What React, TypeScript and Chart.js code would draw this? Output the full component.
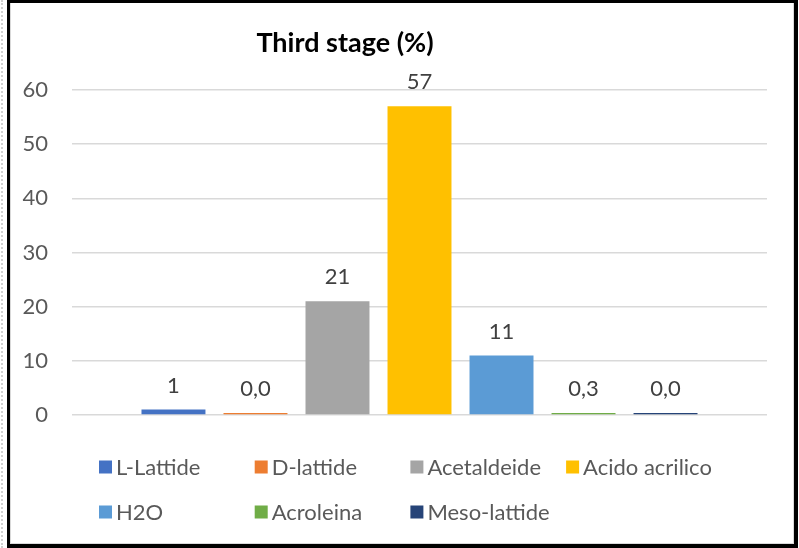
import { useEffect, useRef } from "react";
import { Chart, registerables } from "chart.js";

Chart.register(...registerables);

// Series shown as a single clustered group of bars
const seriesNames = [
  "L-Lattide",
  "D-lattide",
  "Acetaldeide",
  "Acido acrilico",
  "H2O",
  "Acroleina",
  "Meso-lattide",
];
const seriesValues = [1, 0, 21, 57, 11, 0.3, 0];
const seriesColors = [
  "#4472C4",
  "#ED7D31",
  "#A5A5A5",
  "#FFC000",
  "#5B9BD5",
  "#70AD47",
  "#264478",
];
const yTicks = [0, 10, 20, 30, 40, 50, 60];
const chartTitle = "Third stage (%)";

const FONT = "Lato, 'Noto Sans', sans-serif";
const W = 799;
const H = 548;

function formatValue(v: number): string {
  return v >= 1 ? String(Math.round(v)) : v.toFixed(1).replace(".", ",");
}

const titlePlugin = {
  id: "stageTitle",
  afterDraw(chart: any) {
    const ctx = chart.ctx;
    ctx.save();
    ctx.font = `bold 27px ${FONT}`;
    ctx.fillStyle = "#000000";
    ctx.textAlign = "center";
    ctx.textBaseline = "middle";
    ctx.fillText(chartTitle, 345, 43);
    ctx.restore();
  },
};

const valueLabelPlugin = {
  id: "valueLabels",
  afterDatasetsDraw(chart: any) {
    const ctx = chart.ctx;
    ctx.save();
    ctx.font = `22px ${FONT}`;
    ctx.fillStyle = "#404040";
    ctx.textAlign = "center";
    ctx.textBaseline = "middle";
    chart.data.datasets.forEach((ds: any, i: number) => {
      const el = chart.getDatasetMeta(i).data[0];
      if (!el) return;
      const top = Math.min(el.y, el.base);
      ctx.fillText(formatValue(ds.data[0]), el.x, top - 24);
    });
    ctx.restore();
  },
};

const gridLegendPlugin = {
  id: "gridLegend",
  afterDraw(chart: any) {
    const ctx = chart.ctx;
    const startX = 99;
    const colW = 155.7;
    const rowY = [467, 512];
    ctx.save();
    ctx.font = `22px ${FONT}`;
    ctx.textAlign = "left";
    ctx.textBaseline = "middle";
    chart.data.datasets.forEach((ds: any, i: number) => {
      const col = i % 4;
      const row = Math.floor(i / 4);
      const x = startX + col * colW;
      const y = rowY[row];
      ctx.fillStyle = ds.backgroundColor;
      ctx.fillRect(x, y - 6.5, 13, 13);
      ctx.fillStyle = "#595959";
      ctx.fillText(ds.label, x + 17, y + 1);
    });
    ctx.restore();
  },
};

export default function App() {
  const canvasRef = useRef<HTMLCanvasElement | null>(null);

  useEffect(() => {
    if (!canvasRef.current) return;
    const chart = new Chart(canvasRef.current, {
      type: "bar",
      data: {
        labels: [""],
        datasets: seriesNames.map((name, i) => ({
          label: name,
          data: [seriesValues[i]],
          backgroundColor: seriesColors[i],
          borderWidth: 0,
          minBarLength: 2,
          categoryPercentage: 0.826,
          barPercentage: 0.78,
        })),
      },
      options: {
        responsive: false,
        animation: false,
        devicePixelRatio: 1,
        layout: { padding: { top: 90, bottom: 133, left: 0, right: 32 } },
        plugins: {
          legend: { display: false },
          title: { display: false },
          tooltip: { enabled: false },
        },
        scales: {
          x: { display: false },
          y: {
            min: yTicks[0],
            max: yTicks[yTicks.length - 1],
            ticks: {
              stepSize: yTicks[1] - yTicks[0],
              padding: 24,
              color: "#595959",
              font: { family: FONT, size: 22 },
            },
            grid: { color: "#d9d9d9", lineWidth: 1.5, drawTicks: false },
            border: { display: false },
            afterFit: (scale: any) => {
              scale.width = 72;
            },
          },
        },
      },
      plugins: [titlePlugin, valueLabelPlugin, gridLegendPlugin],
    });
    return () => chart.destroy();
  }, []);

  return (
    <div
      style={{
        position: "fixed",
        left: 0,
        top: 0,
        width: W,
        height: H,
        background: "#ffffff",
        overflow: "hidden",
      }}
    >
      <canvas
        ref={canvasRef}
        width={W}
        height={H}
        style={{ position: "absolute", left: 0, top: 0, width: W, height: H }}
      />
      <div
        style={{
          position: "absolute",
          left: 1,
          top: 0,
          width: 0,
          height: H,
          borderLeft: "2px dotted #d0d0d0",
          pointerEvents: "none",
        }}
      />
      <div
        style={{
          position: "absolute",
          left: 7,
          top: 0,
          width: 791,
          height: H,
          boxSizing: "border-box",
          borderStyle: "solid",
          borderColor: "#000000",
          borderWidth: "3px 4px 4px 3px",
          pointerEvents: "none",
        }}
      >
        <div
          style={{
            position: "absolute",
            inset: 0,
            boxSizing: "border-box",
            borderStyle: "solid",
            borderColor: "#d9d9d9",
            borderWidth: "0 1px 1px 1px",
          }}
        />
      </div>
    </div>
  );
}
